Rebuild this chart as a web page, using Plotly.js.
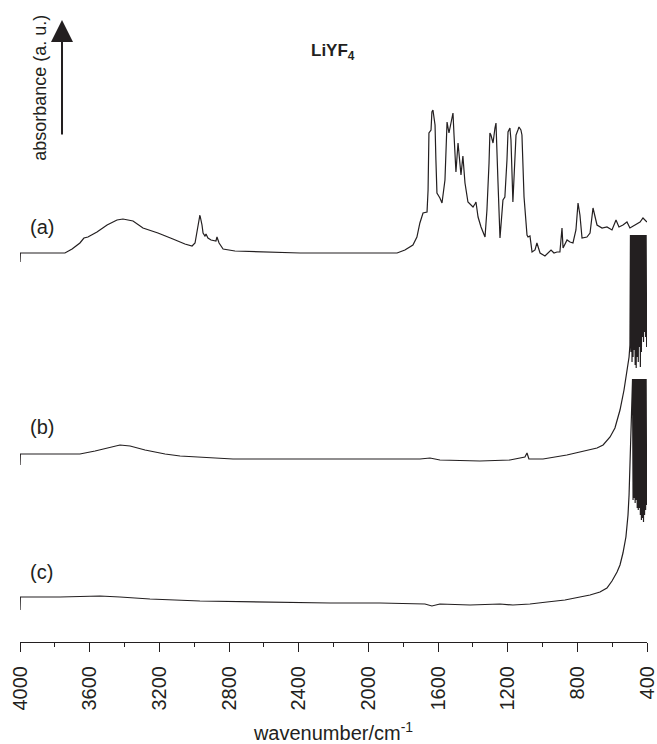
<!DOCTYPE html>
<html>
<head>
<meta charset="utf-8">
<script src="https://cdn.plot.ly/plotly-3.0.1.min.js"></script>
<style>html,body{margin:0;padding:0;background:#fff;}#chart{width:657px;height:744px;}</style>
</head>
<body>
<div id="chart"></div>
<script>
// ---- data (wavenumber in cm-1, absorbance in arbitrary units relative to each baseline) ----
const waveA = [4000,3998,3742,3701,3656,3633,3610,3558,3500,3443,
  3409,3351,3294,3208,3122,3053,3012,2995,2984,2972,
  2967,2955,2949,2938,2932,2921,2903,2875,2869,2857,
  2834,2766,2622,2392,2105,1835,1790,1744,1721,1704,
  1686,1663,1657,1652,1640,1635,1629,1623,1617,1612,
  1606,1589,1577,1560,1548,1537,1525,1514,1508,1497,
  1485,1474,1468,1457,1445,1428,1399,1388,1382,1370,
  1353,1330,1319,1307,1302,1296,1284,1273,1267,1256,
  1244,1227,1216,1204,1198,1187,1181,1170,1158,1152,
  1141,1135,1124,1118,1106,1089,1083,1072,1060,1043,
  1032,1014,986,963,951,934,917,900,888,882,
  859,842,825,808,796,785,773,745,727,710,
  699,687,658,630,601,578,561,538,515,498,
  469,440,423,400];
const absA = [-0.07,0.02,0.02,0.06,0.12,0.17,0.18,0.23,0.30,0.35,
  0.36,0.34,0.27,0.22,0.16,0.11,0.09,0.12,0.23,0.39,
  0.40,0.30,0.22,0.19,0.21,0.17,0.15,0.14,0.18,0.12,
  0.06,0.04,0.03,0.02,0.02,0.02,0.05,0.10,0.18,0.32,
  0.42,0.43,0.65,1.22,1.25,1.43,1.45,1.37,1.30,0.95,
  0.62,0.57,0.52,0.75,1.33,1.22,1.32,1.42,1.20,0.83,
  1.12,0.95,0.80,0.99,0.72,0.53,0.48,0.51,0.53,0.38,
  0.28,0.18,0.45,0.92,1.22,1.20,1.12,1.27,1.32,0.75,
  0.17,0.55,0.58,0.95,1.23,1.27,1.15,0.53,0.95,1.20,
  1.25,1.28,1.25,1.20,0.58,0.20,0.18,0.19,0.03,0.05,
  0.12,0.02,-0.01,0.03,0.05,0.02,0.03,0.03,0.27,0.07,
  0.15,0.13,0.12,0.25,0.52,0.40,0.17,0.18,0.22,0.47,
  0.40,0.30,0.27,0.28,0.25,0.35,0.28,0.30,0.33,0.27,
  0.30,0.33,0.37,0.33];

const waveB = [4000,3998,3828,3656,3569,3495,3426,3368,3282,3167,
  3081,2777,2220,1933,1703,1646,1589,1359,1187,1101,
  1089,1078,997,860,785,727,687,652,612,584,
  555,532,515,503,498];
const absB = [-0.08,0.03,0.03,0.03,0.06,0.09,0.12,0.11,0.07,0.03,
  0.01,-0.02,-0.02,-0.02,-0.02,-0.01,-0.03,-0.04,-0.03,0.00,
  0.04,-0.02,-0.02,0.02,0.05,0.08,0.09,0.12,0.20,0.29,
  0.47,0.67,0.87,1.00,1.12];
// saturated (noisy) low-wavenumber region of spectrum (b)
const waveBNoise = [495,492,489,486,483,480,477,474,471,468,465,462,459,456,453,450,
  447,444,441,438,435,432,429,426,423,420,417,414,411,408,405,402];
const absBNoise = [2.22,1.05,2.22,0.95,2.22,1.00,2.22,1.07,2.22,0.92,2.22,0.89,2.22,1.00,2.22,0.95,
  2.22,1.10,2.22,0.90,2.22,1.05,2.22,1.20,2.22,1.15,2.22,1.25,2.22,1.20,2.22,1.10];

const waveC = [4000,3998,3770,3541,3426,3254,2967,2622,2220,1933,
  1675,1635,1589,1416,1244,1170,1072,974,871,785,
  727,670,630,601,572,555,538,521,509,503,
  498,492,486];
const absC = [-0.10,0.03,0.03,0.04,0.03,0.01,-0.01,-0.02,-0.03,-0.03,
  -0.04,-0.06,-0.04,-0.05,-0.04,-0.05,-0.04,-0.02,0.00,0.03,
  0.05,0.08,0.12,0.19,0.28,0.35,0.47,0.63,0.85,1.05,
  1.35,1.70,2.03];
// saturated (noisy) low-wavenumber region of spectrum (c)
const waveCNoise = [483,480,477,474,471,468,465,462,459,456,453,450,447,444,
  441,438,435,432,429,426,423,420,417,414,411,408,405,402];
const absCNoise = [2.21,1.00,2.21,1.02,2.21,0.97,2.21,1.00,2.21,0.92,2.21,0.90,2.21,0.92,
  2.21,0.85,2.21,0.80,2.21,0.82,2.21,0.78,2.21,0.85,2.21,0.90,2.21,0.95];

const sampleLabels = ['(a)','(b)','(c)'];
const xTickVals = [4000,3600,3200,2800,2400,2000,1600,1200,800,400];

// ---- presentation ----
const INK = '#231f20';
const FONT = 'Liberation Sans, Arial, Helvetica, sans-serif';
const offsets = [3.87, 1.85, 0.42];   // vertical stacking of the three spectra

function shift(arr, off){ return arr.map(v => v + off); }

const series = [
  {x: waveA, y: absA},
  {x: waveB.concat(waveBNoise), y: absB.concat(absBNoise)},
  {x: waveC.concat(waveCNoise), y: absC.concat(absCNoise)}
];

const traces = series.map((s, i) => ({
  type: 'scatter', mode: 'lines',
  x: s.x, y: shift(s.y, offsets[i]),
  line: {color: INK, width: 1.2},
  hoverinfo: 'skip'
}));

const labelY = [0.667, 0.346, 0.113];
const annotations = sampleLabels.map((t, i) => ({
  xref: 'paper', yref: 'paper', x: 0.013, y: labelY[i],
  xanchor: 'left', yanchor: 'middle', text: t, showarrow: false,
  font: {family: FONT, size: 20, color: INK}
}));
annotations.push({
  xref: 'paper', yref: 'paper', x: 0.499, y: 0.948, xanchor: 'center', yanchor: 'middle',
  text: '<b>LiYF<sub>4</sub></b>', showarrow: false,
  font: {family: FONT, size: 17, color: INK}
});
annotations.push({
  xref: 'paper', yref: 'paper', x: 0.032, y: 0.891, xanchor: 'center', yanchor: 'middle',
  text: 'absorbance (a. u.)', textangle: -90, showarrow: false,
  font: {family: FONT, size: 18, color: INK}
});
annotations.push({
  xref: 'paper', yref: 'paper', x: 0.067, y: 1.0, text: ' ', showarrow: true,
  ax: 0, ay: 123, arrowhead: 2, arrowsize: 2.2, arrowwidth: 2, arrowcolor: INK
});

const layout = {
  width: 657, height: 744,
  margin: {l: 20, r: 10, t: 20, b: 102, pad: 0},
  paper_bgcolor: '#fff', plot_bgcolor: '#fff',
  showlegend: false,
  font: {family: FONT, color: INK},
  xaxis: {
    range: [4000, 399.98], tickmode: 'array', tickvals: xTickVals,
    ticks: 'outside', ticklen: 9, tickwidth: 1, tickcolor: INK,
    minor: {dtick: 200, tick0: 0, ticks: 'outside', ticklen: 4, tickwidth: 1, tickcolor: INK, showgrid: false},
    showline: true, linecolor: INK, linewidth: 1, showgrid: false, zeroline: false,
    tickangle: -90, tickfont: {family: FONT, size: 20, color: INK},
    ticklabelstandoff: 6, ticklabeloverflow: 'allow',
    title: {text: 'wavenumber/cm<sup>-1</sup>', font: {family: FONT, size: 20, color: INK}, standoff: 18}
  },
  yaxis: {visible: false, range: [0, 6.22], fixedrange: true},
  annotations: annotations
};

Plotly.newPlot('chart', traces, layout, {staticPlot: true, displayModeBar: false});
</script>
</body>
</html>
